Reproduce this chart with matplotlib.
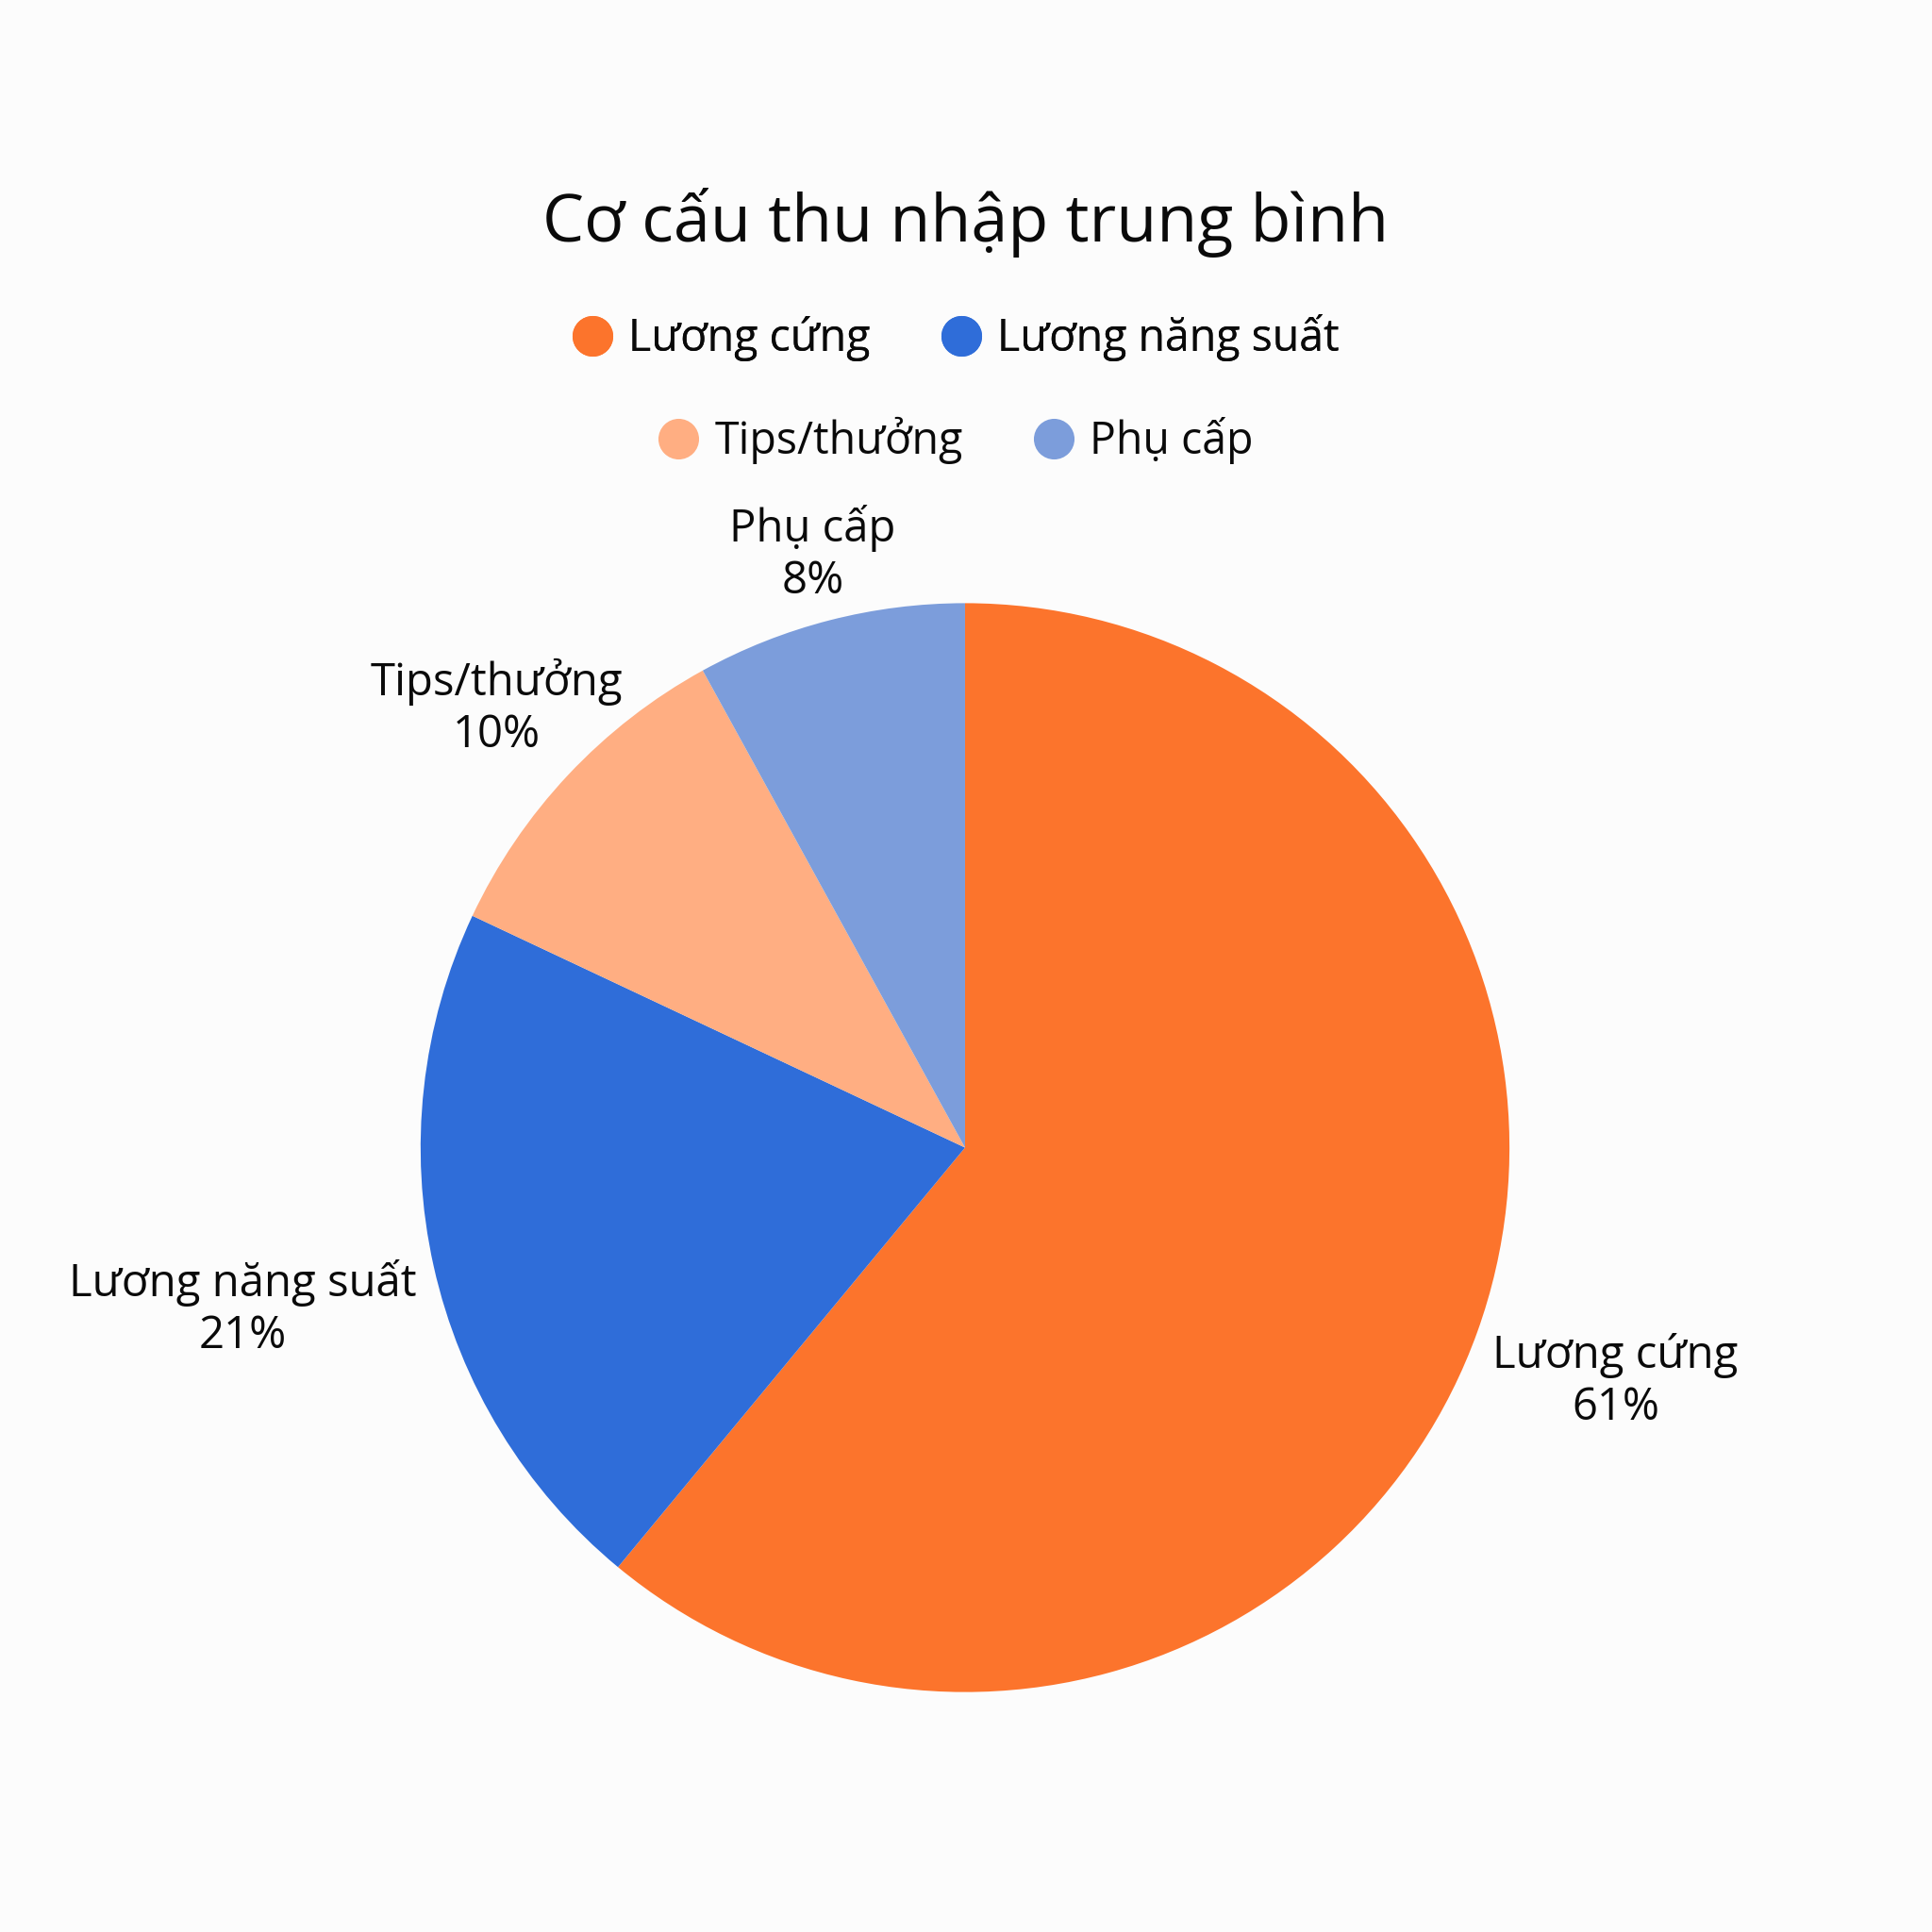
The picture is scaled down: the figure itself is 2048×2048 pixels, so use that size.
import matplotlib
matplotlib.use("Agg")
import matplotlib.pyplot as plt
from matplotlib.lines import Line2D
import numpy as np

# data
categories = ["Lương cứng", "Lương năng suất", "Tips/thưởng", "Phụ cấp"]
shares = [61, 21, 10, 8]
colors = ["#FC742C", "#2F6DD9", "#FFAE82", "#7C9DDB"]
title = "Cơ cấu thu nhập trung bình"

# how far each outside label sits from the centre (in radii)
label_dist = [1.27, 1.36, 1.18, 1.125]

plt.rcParams["font.family"] = ["Open Sans", "DejaVu Sans"]
bg = "#FCFCFC"
txt = "#0A0A0A"

fig = plt.figure(figsize=(20.48, 20.48), dpi=100, facecolor=bg)

# pie axes, centred at (0.4995, 0.406) with radius 0.2818 in figure fraction
r = 0.2818
ax = fig.add_axes([0.4995 - r, 0.406 - r, 2 * r, 2 * r])
ax.set_facecolor(bg)
wedges, _ = ax.pie(shares, colors=colors, startangle=90, counterclock=False,
                   radius=1, wedgeprops=dict(linewidth=0))
ax.set_xlim(-1, 1)
ax.set_ylim(-1, 1)
ax.set_aspect("equal")
ax.axis("off")

for w, cat, val, d in zip(wedges, categories, shares, label_dist):
    ang = np.deg2rad((w.theta1 + w.theta2) / 2)
    ax.text(d * np.cos(ang), d * np.sin(ang), f"{cat}\n{val}%",
            ha="center", va="center", fontsize=34, color=txt,
            linespacing=1.2, clip_on=False)

fig.text(0.5, 0.885, title, ha="center", va="center", fontsize=50.5, color=txt)

handles = [Line2D([], [], marker="o", linestyle="none", markersize=31,
                  markerfacecolor=c, markeredgewidth=0) for c in colors]

leg_kw = dict(loc="center", ncol=2, frameon=False, fontsize=33.5, handlelength=0.95,
              handletextpad=0.35, columnspacing=1.6, labelcolor=txt)
leg1 = fig.legend(handles[:2], categories[:2], bbox_to_anchor=(0.4945, 0.825), **leg_kw)
leg2 = fig.legend(handles[2:], categories[2:], bbox_to_anchor=(0.4945, 0.772), **leg_kw)
fig.add_artist(leg1)

fig.savefig("out.png", dpi=100, facecolor=bg)
